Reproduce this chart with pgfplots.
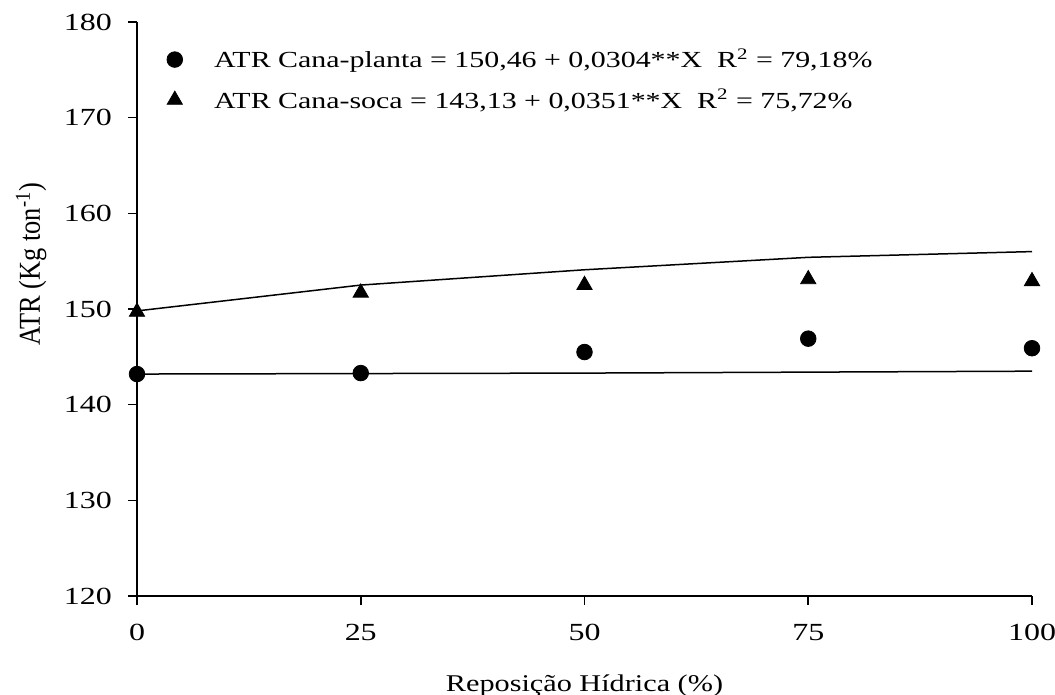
\documentclass[border=0pt]{standalone}
\usepackage{fontspec}
\setmainfont{Liberation Serif}[FakeStretch=1.3]
\newfontfamily\xlabfont{Liberation Serif}[FakeStretch=1.26]
\newfontfamily\ylabfont{Liberation Serif}
\usepackage{pgfplots}
\pgfplotsset{compat=1.18}
\begin{document}
\begin{tikzpicture}[x=1pt,y=1pt]
\begin{axis}[
  at={(0,0)}, anchor=south west,
  scale only axis, width=447.5pt, height=287pt,
  xmin=0, xmax=100, ymin=120, ymax=180,
  xtick={0,25,50,75,100}, ytick={120,130,140,150,160,170,180},
  axis x line*=bottom, axis y line*=left,
  axis line style={line width=0.9pt, black},
  tick align=outside, major tick length=4.5pt,
  tick style={line width=0.8pt, black},
  /pgf/number format/assume math mode=true,
  ticklabel style={font=\fontsize{12.3}{14}\selectfont},
  xticklabel style={yshift=-6pt},
  yticklabel style={xshift=-4.5pt},
  xlabel={\xlabfont Reposição Hídrica (\%)},
  xlabel style={at={(axis description cs:0.5,-0.1672)}, anchor=base, font=\fontsize{12}{14}\selectfont},
  ylabel={\scalebox{1}[1.15]{\ylabfont ATR (Kg ton\textsuperscript{-1})}},
  every axis y label/.style={at={(axis description cs:-0.1084,0.578)}, rotate=90, anchor=base, font=\fontsize{13.2}{15}\selectfont},
  clip=false,
  legend style={at={(axis description cs:0,1)}, anchor=north west, draw=none, fill=none,
    font=\fontsize{11.5}{13}\selectfont, xshift=7pt, yshift=-9pt, row sep=5pt},
  legend cell align=left,
  legend image code/.code={\draw[#1] plot coordinates {(8.5pt,0pt)}; \path (0pt,0pt) (26pt,0pt);},
]
\addplot[only marks, mark=*, mark size=3.9pt, black] coordinates {
  (0,143.2) (25,143.3) (50,145.5) (75,146.9) (100,145.9)};
\addlegendentry{ATR Cana-planta = 150,46 + 0,0304**X\ \ R\textsuperscript{2} = 79,18\%}
\addplot[only marks, mark=triangle*, mark size=4.4pt, black] coordinates {
  (0,149.7) (25,151.7) (50,152.5) (75,153.1) (100,152.9)};
\addlegendentry{ATR Cana-soca = 143,13 + 0,0351**X\ \ R\textsuperscript{2} = 75,72\%}
\addplot[no marks, black, line width=0.75pt, forget plot] coordinates {
  (0,143.2) (25,143.25) (50,143.3) (75,143.4) (100,143.5)};
\addplot[no marks, black, line width=0.75pt, forget plot] coordinates {
  (0,149.8) (25,152.5) (50,154.1) (75,155.4) (100,156.0)};
\end{axis}
\pgfresetboundingbox
\path (-68.5,-49.5) rectangle (459,298);
\end{tikzpicture}
\end{document}
